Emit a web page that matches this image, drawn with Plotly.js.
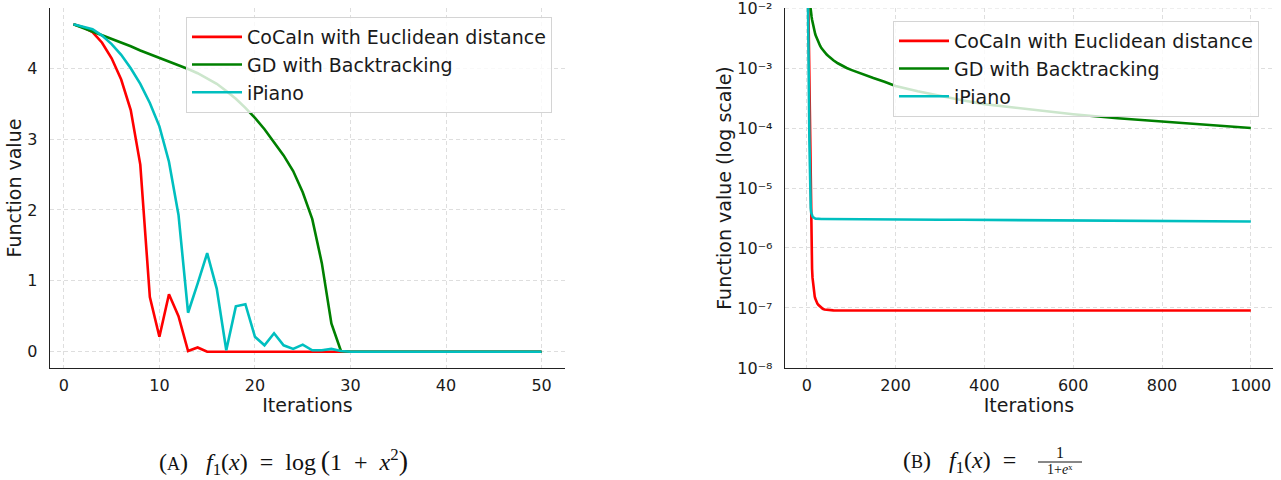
<!DOCTYPE html>
<html>
<head>
<meta charset="utf-8">
<script src="https://cdn.plot.ly/plotly-3.0.1.min.js"></script>
<style>
  html, body { margin: 0; padding: 0; background: #ffffff; }
  #fig { width: 1281px; height: 480px; }
</style>
</head>
<body>
<div id="fig"></div>
<script>
// ---- Series names ----
const seriesNames = ["CoCaIn with Euclidean distance", "GD with Backtracking", "iPiano"];
const seriesColors = ["#ff0000", "#008000", "#00bfbf"];

// ---- Panel (A): f1(x) = log(1 + x^2), 50 iterations ----
const itersA = [1,2,3,4,5,6,7,8,9,10,11,12,13,14,15,16,17,18,19,20,21,22,23,24,25,
                26,27,28,29,30,31,32,33,34,35,36,37,38,39,40,41,42,43,44,45,46,47,48,49,50];
const cocainA = [4.62,4.58,4.51,4.36,4.14,3.84,3.41,2.64,0.77,0.21,0.81,0.50,0.01,0.06,0,
                 0,0,0,0,0,0,0,0,0,0,0,0,0,0,0,0,0,0,0,0,0,0,0,0,0,0,0,0,0,0,0,0,0,0,0];
const gdA = [4.62,4.57,4.52,4.47,4.42,4.36,4.31,4.25,4.20,4.15,4.09,4.04,3.99,3.93,3.86,
             3.78,3.68,3.57,3.44,3.30,3.14,2.96,2.77,2.55,2.25,1.87,1.25,0.40,0.01,0,
             0,0,0,0,0,0,0,0,0,0,0,0,0,0,0,0,0,0,0,0];
const ipianoA = [4.62,4.59,4.55,4.46,4.34,4.19,4.00,3.78,3.51,3.18,2.68,1.93,0.55,0.96,1.39,
                 0.89,0.02,0.64,0.67,0.21,0.09,0.26,0.09,0.04,0.10,0.02,0.02,0.04,0.01,0,
                 0,0,0,0,0,0,0,0,0,0,0,0,0,0,0,0,0,0,0,0];
const xTicksA = [0, 10, 20, 30, 40, 50];
const yTicksA = [0, 1, 2, 3, 4];

// ---- Panel (B): f1(x) = 1/(1 + e^x), 1000 iterations (sampled iterations) ----
const itersB = [1,2,3,4,5,6,7,8,9,10,11,12,13,14,15,16,17,18,19,20,
                22,24,26,28,30,33,36,40,45,50,55,60,70,80,90,100,
                115,130,150,175,200,250,300,350,400,500,600,700,800,900,1000];
const cocainB = [0.27,0.08,0.02,4e-3,8e-4,1.5e-4,3.5e-5,1e-5,4.5e-6,1.8e-6,8e-7,4.5e-7,3.2e-7,
                 2.6e-7,2.15e-7,1.85e-7,1.7e-7,1.55e-7,1.45e-7,1.38e-7,
                 1.26e-7,1.18e-7,1.13e-7,1.09e-7,1.05e-7,1.0e-7,9.7e-8,9.45e-8,9.3e-8,9.2e-8,
                 9.15e-8,9.12e-8,9.1e-8,9.1e-8,9.1e-8,9.1e-8,
                 9.1e-8,9.1e-8,9.1e-8,9.1e-8,9.1e-8,9.1e-8,9.1e-8,9.1e-8,9.1e-8,
                 9.1e-8,9.1e-8,9.1e-8,9.1e-8,9.1e-8,9.1e-8];
const gdB = [0.15,0.06,0.035,0.024,0.018,0.0145,0.0118,0.0101,0.0089,0.0079,0.0071,0.0064,0.0058,
             0.0053,0.0049,0.0045,0.0042,0.0039,0.0037,0.0035,
             0.0032,0.0029,0.0027,0.0025,0.00235,0.00215,0.002,0.00185,0.00168,0.00155,
             0.00144,0.00135,0.0012,0.00109,0.001,0.00093,
             0.00084,0.00076,0.00068,0.00059,0.0005,0.00041,0.00034,0.00029,0.00025,
             0.000205,0.00017,0.000145,0.000127,0.000112,0.0001];
const ipianoB = [0.27,0.08,0.015,2e-3,3e-4,6e-5,1.5e-5,6.5e-6,4.6e-6,3.9e-6,3.6e-6,3.45e-6,3.35e-6,
                 3.28e-6,3.22e-6,3.18e-6,3.15e-6,3.12e-6,3.1e-6,3.09e-6,
                 3.07e-6,3.06e-6,3.05e-6,3.05e-6,3.05e-6,3.04e-6,3.04e-6,3.04e-6,3.04e-6,3.04e-6,
                 3.03e-6,3.03e-6,3.03e-6,3.02e-6,3.02e-6,3.02e-6,
                 3.01e-6,3.01e-6,3.0e-6,3.0e-6,2.99e-6,2.98e-6,2.96e-6,2.95e-6,2.93e-6,
                 2.9e-6,2.87e-6,2.84e-6,2.82e-6,2.79e-6,2.77e-6];
const xTicksB = [0, 200, 400, 600, 800, 1000];
const yTicksB = [1e-8, 1e-7, 1e-6, 1e-5, 1e-4, 1e-3, 1e-2];
const yTickTextB = ['10\u207B\u2078', '10\u207B\u2077', '10\u207B\u2076', '10\u207B\u2075',
                    '10\u207B\u2074', '10\u207B\u00B3', '10\u207B\u00B2'];

// ---- Traces ----
const lineW = 2.6;
const traces = [];
const dataA = [cocainA, gdA, ipianoA];
const dataB = [cocainB, gdB, ipianoB];
dataA.forEach((ys, i) => traces.push({
  x: itersA, y: ys, type: 'scatter', mode: 'lines', name: seriesNames[i],
  line: {color: seriesColors[i], width: lineW}, xaxis: 'x', yaxis: 'y', legend: 'legend'
}));
dataB.forEach((ys, i) => traces.push({
  x: itersB, y: ys, type: 'scatter', mode: 'lines', name: seriesNames[i],
  line: {color: seriesColors[i], width: lineW}, xaxis: 'x2', yaxis: 'y2', legend: 'legend2'
}));

// ---- Layout ----
const FONT = 'DejaVu Sans, sans-serif';
const SERIF = 'Liberation Serif, DejaVu Serif, serif';
const gridCol = '#dedede';
const axisCol = '#222222';
const textCol = '#1a1a1a';
const L = 50, R = 8, T = 8, B = 112, W = 1281, H = 480;
const pw = W - L - R;
const px = v => (v - L) / pw;
const py = v => (H - B - v) / (H - T - B);

const commonAxis = {
  showline: true, linecolor: axisCol, linewidth: 1.3, mirror: false,
  showgrid: true, gridcolor: gridCol, griddash: '4px,3px', gridwidth: 1,
  zeroline: false, ticks: '', ticklabeloverflow: 'allow',
  tickfont: {family: FONT, size: 16, color: textCol}
};
const titleFont = {family: FONT, size: 19, color: textCol};
const legendBase = {
  font: {family: FONT, size: 19, color: textCol},
  bgcolor: 'rgba(255,255,255,0.8)', bordercolor: '#d4d4d4', borderwidth: 1,
  xanchor: 'left', yanchor: 'top', tracegroupgap: 0, itemwidth: 50
};
const capFont = {family: SERIF, size: 24, color: '#111111'};
const fracFont = {family: SERIF, size: 14, color: '#111111'};

const layout = {
  width: W, height: H,
  margin: {l: L, r: R, t: T, b: B},
  paper_bgcolor: '#ffffff', plot_bgcolor: '#ffffff',
  showlegend: true,
  xaxis: Object.assign({}, commonAxis, {
    domain: [0, px(565)], range: [-1.45, 52.45], tickvals: xTicksA, ticklabelstandoff: 2,
    title: {text: 'Iterations', font: titleFont, standoff: 4}
  }),
  yaxis: Object.assign({}, commonAxis, {
    domain: [0, 1], range: [-0.23, 4.85], tickvals: yTicksA, ticklabelstandoff: 8,
    title: {text: 'Function value', font: titleFont, standoff: 0}
  }),
  xaxis2: Object.assign({}, commonAxis, {
    domain: [px(785), 1], range: [-48.95, 1049.95], tickvals: xTicksB, anchor: 'y2',
    ticklabelstandoff: 2,
    title: {text: 'Iterations', font: titleFont, standoff: 4}
  }),
  yaxis2: Object.assign({}, commonAxis, {
    domain: [0, 1], type: 'log', range: [-8.0005, -1.9995], anchor: 'x2', ticklabelstandoff: 8,
    tickvals: yTicksB, ticktext: yTickTextB,
    title: {text: 'Function value (log scale)', font: titleFont, standoff: 0}
  }),
  legend: Object.assign({}, legendBase, {x: px(186), y: py(17)}),
  legend2: Object.assign({}, legendBase, {x: px(893), y: py(21)}),
  shapes: [
    // top decade gridline of the log panel
    {type: 'line', xref: 'x2 domain', yref: 'y2', x0: 0, x1: 1, y0: 1e-2, y1: 1e-2,
     layer: 'below', line: {color: gridCol, width: 1, dash: '4px,3px'}},
    // fraction bar of the right-hand caption
    {type: 'line', xref: 'paper', yref: 'paper',
     x0: px(1038), x1: px(1082), y0: py(462), y1: py(462),
     line: {color: '#111111', width: 1}}
  ],
  annotations: [
    {xref: 'paper', yref: 'paper', x: px(157), y: py(462), xanchor: 'left', yanchor: 'middle',
     showarrow: false, font: capFont,
     text: '(<span style="font-size:18px">A</span>)\u2002\u2005<i>f</i><sub>1</sub>(<i>x</i>)\u2002=\u2002log\u2009<span style="font-size:28px">(</span>1\u2002+\u2002<i>x</i><sup>2</sup><span style="font-size:28px">)</span>'},
    {xref: 'paper', yref: 'paper', x: px(901), y: py(462), xanchor: 'left', yanchor: 'middle',
     showarrow: false, font: capFont,
     text: '(<span style="font-size:18px">B</span>)\u2002\u2005<i>f</i><sub>1</sub>(<i>x</i>)\u2002='},
    {xref: 'paper', yref: 'paper', x: px(1060), y: py(452), xanchor: 'center', yanchor: 'middle',
     showarrow: false, font: {family: SERIF, size: 16, color: '#111111'}, text: '1'},
    {xref: 'paper', yref: 'paper', x: px(1060), y: py(470), xanchor: 'center', yanchor: 'middle',
     showarrow: false, font: fracFont, text: '1+<i>e</i>\u02E3'}
  ]
};

Plotly.newPlot('fig', traces, layout, {displayModeBar: false, staticPlot: true});
</script>
</body>
</html>
